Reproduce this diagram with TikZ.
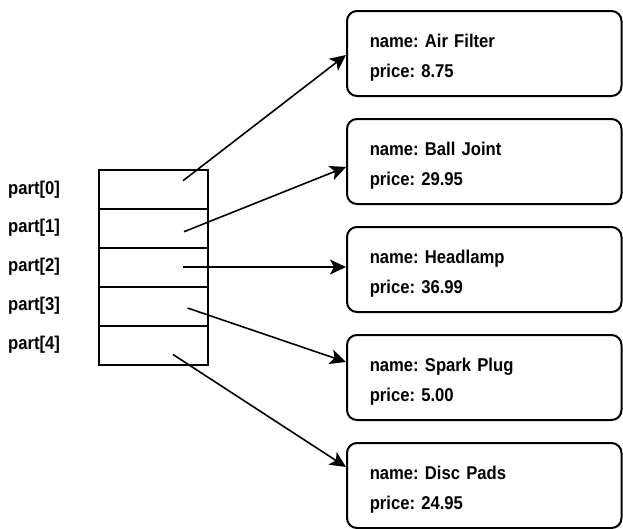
\documentclass[tikz,border=0pt]{standalone}
\usepackage{fontspec}
\setmainfont{Liberation Sans}[FakeStretch=0.9]
\usetikzlibrary{arrows.meta}
\begin{document}
\frenchspacing
\begin{tikzpicture}[x=1pt,y=-1pt,
  cell/.style={draw, line width=2pt, minimum width=108.5pt, minimum height=39.1pt, inner sep=0pt},
  lbl/.style={anchor=base west, inner sep=0pt, font=\fontsize{18.5}{20}\selectfont\bfseries},
  rec/.style={draw, line width=2pt, rounded corners=10pt, minimum width=274.5pt, minimum height=85pt,
    inner xsep=22pt, inner ysep=0pt, text width=229pt, align=left, font=\fontsize{18.5}{30}\selectfont\bfseries},
  ptr/.style={line width=1.6pt, -{Stealth[length=16pt, width=15pt, inset=4pt]}}
]
\useasboundingbox (0,0) rectangle (623,528);
% array cells
\foreach \i in {0,...,4}{
  \node[cell] (c\i) at (153.25,{189.05+39.1*\i}) {};
  \node[lbl] (l\i) at (8,{194+38.9*\i}) {part[\i]};
}
% record boxes
\node[rec] (b1) at (484.25,53.5) {\rule{0pt}{21pt}name: Air Filter\\price: 8.75};
\node[rec] (b2) at (484.25,161.5) {\rule{0pt}{21pt}name: Ball Joint\\price: 29.95};
\node[rec] (b3) at (484.25,269.5) {\rule{0pt}{21pt}name: Headlamp\\price: 36.99};
\node[rec] (b4) at (484.25,377.5) {\rule{0pt}{21pt}name: Spark Plug\\price: 5.00};
\node[rec] (b5) at (484.25,485.5) {\rule{0pt}{21pt}name: Disc Pads\\price: 24.95};
% pointer starts
\coordinate (s0) at (183,180.7);
\coordinate (s1) at (184,231.7);
\coordinate (s2) at (183,267);
\coordinate (s3) at (187.5,308);
\coordinate (s4) at (173,354.5);
% pointers
\draw[ptr] (s0) -- ([yshift=-1.5pt]b1.west);
\draw[ptr] (s1) -- ([yshift=-5.5pt]b2.west);
\draw[ptr] (s2) -- ([yshift=2.5pt]b3.west);
\draw[ptr] (s3) -- ([yshift=15.5pt]b4.west);
\draw[ptr] (s4) -- ([yshift=18.5pt]b5.west);
\end{tikzpicture}
\end{document}
